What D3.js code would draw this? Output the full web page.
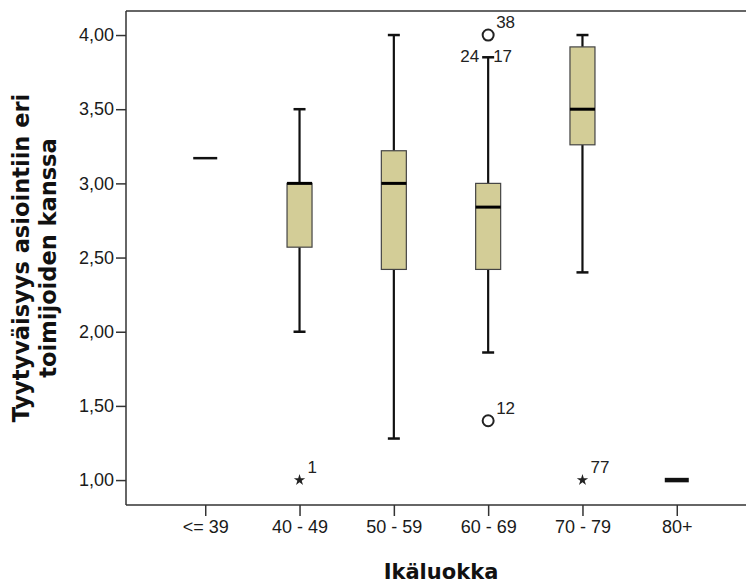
<!DOCTYPE html>
<html>
<head>
<meta charset="utf-8">
<script src="https://cdn.jsdelivr.net/npm/d3@7"></script>
<style>
  html, body { margin: 0; padding: 0; background: #fff; overflow: hidden; }
  svg { display: block; }
</style>
</head>
<body>
<svg id="chart" width="746" height="586"></svg>
<script>
// Age groups and box-plot statistics of satisfaction scores
const categories = ["<= 39", "40 - 49", "50 - 59", "60 - 69", "70 - 79", "80+"];
const whiskerLow  = [3.17, 2.00, 1.28, 1.86, 2.40, 1.00];
const q1          = [3.17, 2.57, 2.42, 2.42, 3.26, 1.00];
const median      = [3.17, 3.00, 3.00, 2.84, 3.50, 1.00];
const q3          = [3.17, 3.00, 3.22, 3.00, 3.92, 1.00];
const whiskerHigh = [3.17, 3.50, 4.00, 3.85, 4.00, 1.00];

// Individual cases outside the whiskers: "o" = outlier, "*" = extreme
const outlierGroup = ["40 - 49", "60 - 69", "60 - 69", "70 - 79"];
const outlierValue = [1.00, 4.00, 1.40, 1.00];
const outlierKind  = ["*", "o", "o", "*"];
const outlierLabel = ["1", "38", "12", "77"];

// Case labels at the upper whisker end of 60 - 69
const whiskerCaseGroup = ["60 - 69", "60 - 69"];
const whiskerCaseValue = [3.85, 3.85];
const whiskerCaseLabel = ["24", "17"];
const whiskerCaseSide  = ["left", "right"];

const yTicks = [1.0, 1.5, 2.0, 2.5, 3.0, 3.5, 4.0];
const yTitle = ["Tyytyväisyys asiointiin eri", "toimijoiden kanssa"];
const xTitle = "Ikäluokka";

const svg = d3.select("#chart");
const plot = { left: 126, top: 11, right: 756, bottom: 505 };
const visibleRight = 746;

const x = d3.scalePoint().domain(categories)
  .range([plot.left, plot.right]).padding(0.84);
const y = d3.scaleLinear().domain([0.832, 4.162])
  .range([plot.bottom, plot.top]);

const fmt = v => d3.format(".2f")(v).replace(".", ",");
const axisColor = "#333";
const tickFont = "'Liberation Sans', Arial, sans-serif";
const titleFont = "'DejaVu Sans', Verdana, sans-serif";

// frame: top border line (runs past the right edge of the canvas)
svg.append("path")
  .attr("d", `M${plot.left},${plot.top}H${visibleRight}`)
  .attr("fill", "none")
  .attr("stroke", axisColor).attr("stroke-width", 1.5);

// y axis
const yAxis = svg.append("g")
  .attr("transform", `translate(${plot.left},0)`)
  .call(d3.axisLeft(y).tickValues(yTicks).tickFormat(fmt).tickSize(10).tickPadding(2));
yAxis.select(".domain").attr("d", `M0,${plot.top}V${plot.bottom}`)
  .attr("stroke", axisColor).attr("stroke-width", 1.5);
yAxis.selectAll(".tick line").attr("stroke", axisColor).attr("stroke-width", 1.5);
yAxis.selectAll(".tick text").attr("font-family", tickFont).attr("font-size", 18).attr("fill", "#1a1a1a");

// x axis
const xAxis = svg.append("g")
  .attr("transform", `translate(0,${plot.bottom})`)
  .call(d3.axisBottom(x).tickSize(11).tickPadding(4));
xAxis.select(".domain").attr("d", `M${plot.left},0H${visibleRight}`)
  .attr("stroke", axisColor).attr("stroke-width", 1.5);
xAxis.selectAll(".tick line").attr("stroke", axisColor).attr("stroke-width", 1.5);
xAxis.selectAll(".tick text").attr("font-family", tickFont).attr("font-size", 18).attr("fill", "#1a1a1a");

// axis titles
const yt = svg.append("text")
  .attr("transform", `translate(36,${(plot.top + plot.bottom) / 2}) rotate(-90)`)
  .attr("text-anchor", "middle")
  .attr("font-family", titleFont).attr("font-weight", "bold")
  .attr("font-size", 22.5).attr("fill", "#111");
yTitle.forEach((line, i) => {
  yt.append("tspan").attr("x", 0).attr("dy", i === 0 ? "-0.3em" : "1.2em").text(line);
});

svg.append("text")
  .attr("x", 441).attr("y", 579)
  .attr("text-anchor", "middle")
  .attr("font-family", titleFont).attr("font-weight", "bold")
  .attr("font-size", 21).attr("fill", "#111")
  .text(xTitle);

// boxes
const boxW = 25, capW = 12;
const groups = categories.map((c, i) => ({
  c, lo: whiskerLow[i], q1: q1[i], med: median[i], q3: q3[i], hi: whiskerHigh[i]
}));

const g = svg.append("g");
groups.forEach(d => {
  const cx = x(d.c);
  if (d.q1 === d.q3 && d.lo === d.hi) {
    // all cases share one value: only a median bar
    g.append("line")
      .attr("x1", cx - 12).attr("x2", cx + 12)
      .attr("y1", y(d.med)).attr("y2", y(d.med))
      .attr("stroke", "#111").attr("stroke-width", d.c === "80+" ? 4.5 : 2.5);
    return;
  }
  // whiskers
  [[d.lo, d.q1], [d.q3, d.hi]].forEach(([a, b]) => {
    if (a === b) return;
    g.append("line")
      .attr("x1", cx).attr("x2", cx)
      .attr("y1", y(a)).attr("y2", y(b))
      .attr("stroke", "#111").attr("stroke-width", 2.2);
  });
  [d.lo, d.hi].forEach(v => {
    g.append("line")
      .attr("x1", cx - capW / 2).attr("x2", cx + capW / 2)
      .attr("y1", y(v)).attr("y2", y(v))
      .attr("stroke", "#111").attr("stroke-width", 2.5);
  });
  // box
  g.append("rect")
    .attr("x", cx - boxW / 2).attr("width", boxW)
    .attr("y", y(d.q3)).attr("height", y(d.q1) - y(d.q3))
    .attr("fill", "#d3cd97").attr("stroke", "#444").attr("stroke-width", 1.2);
  // median
  g.append("line")
    .attr("x1", cx - boxW / 2).attr("x2", cx + boxW / 2)
    .attr("y1", y(d.med)).attr("y2", y(d.med))
    .attr("stroke", "#000").attr("stroke-width", 3);
});

// outliers and extremes
const star = d3.symbol().type(d3.symbolStar).size(40);
outlierGroup.forEach((c, i) => {
  const cx = x(c), cy = y(outlierValue[i]);
  if (outlierKind[i] === "o") {
    g.append("circle").attr("cx", cx).attr("cy", cy).attr("r", 5.5)
      .attr("fill", "none").attr("stroke", "#222").attr("stroke-width", 2);
  } else {
    g.append("path").attr("d", star).attr("transform", `translate(${cx},${cy})`)
      .attr("fill", "#222");
  }
  g.append("text")
    .attr("x", cx + 8).attr("y", cy - 7)
    .attr("font-family", tickFont).attr("font-size", 17).attr("fill", "#222")
    .text(outlierLabel[i]);
});

// case labels at whisker end
whiskerCaseGroup.forEach((c, i) => {
  const cx = x(c), cy = y(whiskerCaseValue[i]);
  const left = whiskerCaseSide[i] === "left";
  g.append("text")
    .attr("x", left ? cx - 9 : cx + 5).attr("y", cy + 5)
    .attr("text-anchor", left ? "end" : "start")
    .attr("font-family", tickFont).attr("font-size", 17).attr("fill", "#222")
    .text(whiskerCaseLabel[i]);
});
</script>
</body>
</html>
